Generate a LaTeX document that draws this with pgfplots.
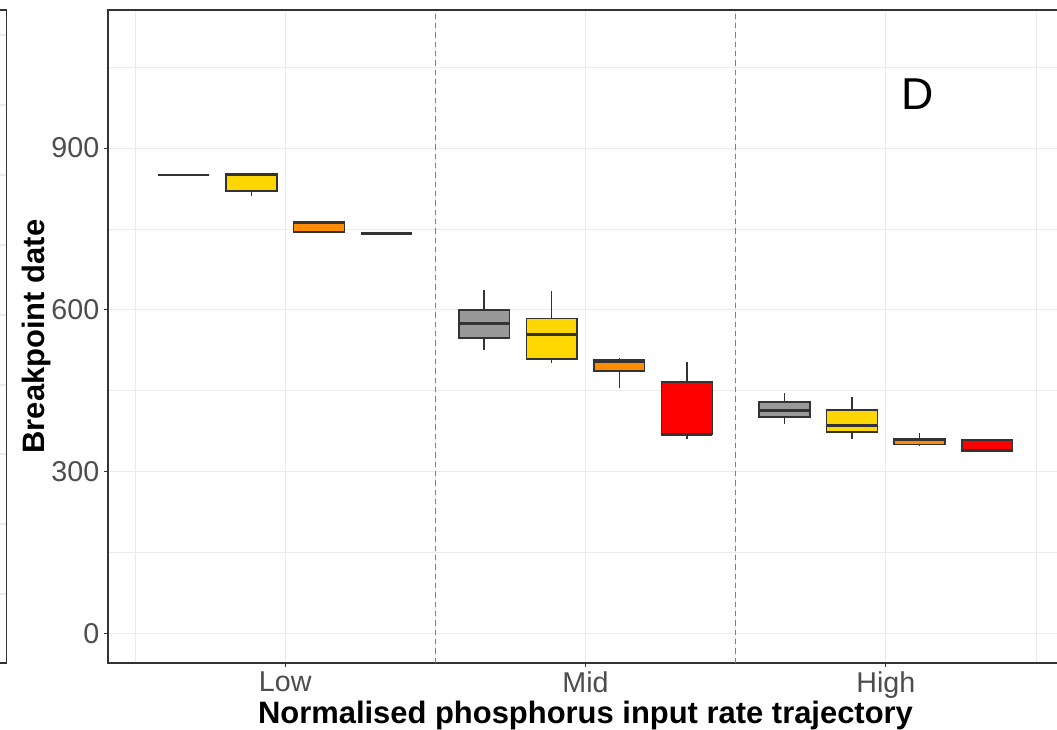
\documentclass[border=0pt]{standalone}
\usepackage{fontspec}
\setmainfont{Liberation Sans}
\usepackage{pgfplots}
\pgfplotsset{compat=1.18}
\usepgfplotslibrary{statistics}

\definecolor{boxline}{HTML}{333333}
\definecolor{cgrey}{HTML}{999999}
\definecolor{cgold}{HTML}{FFD700}
\definecolor{corange}{HTML}{FF8C00}
\definecolor{cred}{HTML}{FF0000}
\definecolor{gridc}{HTML}{EBEBEB}
\definecolor{ticktext}{HTML}{4D4D4D}
\definecolor{sepline}{HTML}{808080}

% one prepared box: position, fill, lower whisker, lower quartile, median, upper quartile, upper whisker
\newcommand{\bx}[7]{%
  \addplot[boxplot prepared={draw position=#1, lower whisker=#3,
      lower quartile=#4, median=#5, upper quartile=#6, upper whisker=#7,
      box extend=0.169, whisker extend=0},
    fill=#2, draw=boxline, line width=1.1pt] coordinates {};
}

\begin{document}
\begin{tikzpicture}
% edge of the neighbouring panel
\begin{axis}[
  at={(-76.1pt,0)}, anchor=south east,
  scale only axis, width=40pt, height=489.75pt,
  xmin=0, xmax=1, ymin=0, ymax=653,
  xtick=\empty, ytick={69,139,209,278,348,418,488,558,628},
  yticklabels=\empty, ymajorgrids,
  major grid style={draw=gridc, line width=0.8pt},
  major tick length=0pt,
  axis line style={draw=boxline, line width=1pt},
]
\end{axis}

\begin{axis}[
  at={(0,0)}, anchor=south west,
  scale only axis, width=716.25pt, height=489.75pt,
  xmin=0.41, xmax=3.59, ymin=-54.7, ymax=1156,
  xtick={1,2,3}, xticklabels={Low,Mid,High},
  minor xtick={0.5,1.5,2.5,3.5},
  ytick={0,300,600,900}, minor ytick={150,450,750,1050},
  grid=both,
  major grid style={draw=gridc, line width=0.8pt},
  minor grid style={draw=gridc, line width=0.45pt},
  tick align=outside, tick pos=left,
  major tick length=3pt, minor tick length=0pt,
  tick style={draw=boxline, line width=0.8pt},
  axis line style={draw=boxline, line width=1pt},
  ticklabel style={font=\fontsize{21.5}{26}\selectfont, text=ticktext},
  /pgf/number format/assume math mode=true,
  xlabel={Normalised phosphorus input rate trajectory},
  ylabel={Breakpoint date},
  label style={font=\bfseries\fontsize{23.2}{28}\selectfont},
  xlabel style={at={(axis description cs:0.5,-0.0934)}, anchor=base},
  ylabel style={at={(axis description cs:-0.066,0.5)}, anchor=base},
  boxplot/draw direction=y,
  boxplot/every median/.style={line width=2.2pt},
]
% group separators
\addplot[sepline, line width=0.8pt, dash pattern=on 4pt off 3pt, forget plot]
  coordinates {(1.5,-54.7) (1.5,1156)};
\addplot[sepline, line width=0.8pt, dash pattern=on 4pt off 3pt, forget plot]
  coordinates {(2.5,-54.7) (2.5,1156)};

% Low
\bx{0.6625}{cgrey}{850}{850}{850}{850}{850}
\bx{0.8875}{cgold}{812}{820}{851}{852}{852}
\bx{1.1125}{corange}{744}{744}{762}{763}{763}
\bx{1.3375}{cred}{742}{742}{742}{742}{742}
% Mid
\bx{1.6625}{cgrey}{525}{548}{574}{600}{637}
\bx{1.8875}{cgold}{502}{509}{555}{584}{635}
\bx{2.1125}{corange}{456}{487}{505}{507}{511}
\bx{2.3375}{cred}{360}{369}{369.5}{466}{504}
% High
\bx{2.6625}{cgrey}{389}{401}{414}{429}{445}
\bx{2.8875}{cgold}{361}{374}{385}{414}{439}
\bx{3.1125}{corange}{349}{350}{360}{361}{371}
\bx{3.3375}{cred}{338}{338}{340}{359}{359}

\node[font=\fontsize{33.5}{40}\selectfont] at (axis cs:3.107,1000) {D};
\end{axis}
\pgfresetboundingbox
\useasboundingbox (-81pt,-50.25pt) rectangle (711.75pt,497.25pt);
\end{tikzpicture}
\end{document}
